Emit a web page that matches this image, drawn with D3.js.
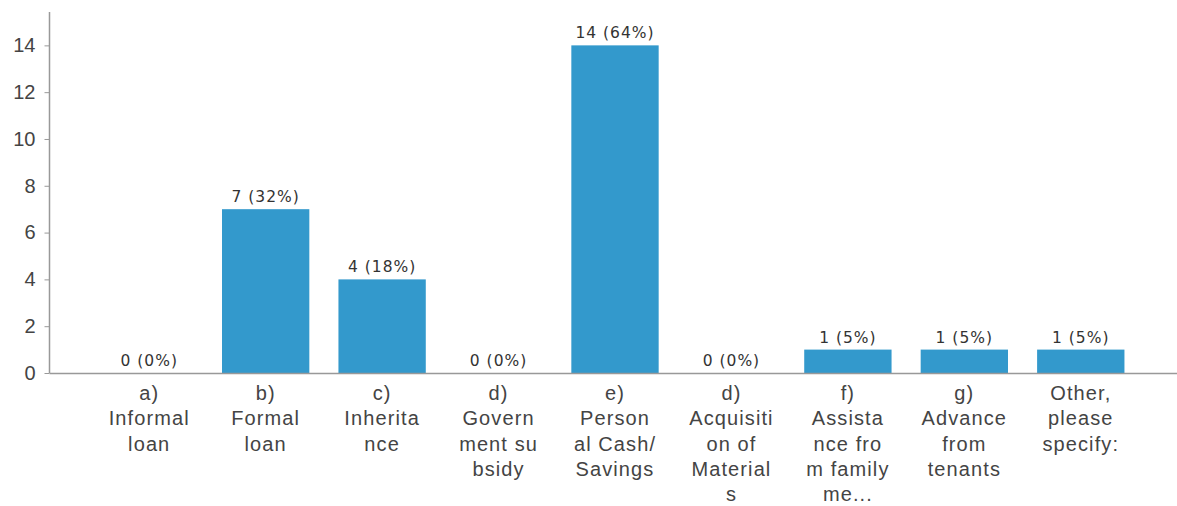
<!DOCTYPE html>
<html><head><meta charset="utf-8">
<script src="https://cdn.jsdelivr.net/npm/d3@7"></script>
<style>body{margin:0;background:#fff}</style>
</head><body>
<svg id="c" width="1177" height="506"></svg>
<script>
const categories = [
  ["a)","Informal","loan"],
  ["b)","Formal","loan"],
  ["c)","Inherita","nce"],
  ["d)","Govern","ment su","bsidy"],
  ["e)","Person","al Cash/","Savings"],
  ["d)","Acquisiti","on of","Material","s"],
  ["f)","Assista","nce fro","m family","me..."],
  ["g)","Advance","from","tenants"],
  ["Other,","please","specify:"]
];
const values = [0,7,4,0,14,0,1,1,1];
const percents = ["0%","32%","18%","0%","64%","0%","5%","5%","5%"];
const yTicks = [0,2,4,6,8,10,12,14];

const svg = d3.select("#c");
const x = d3.scaleBand().domain(d3.range(categories.length)).range([91,1139]).paddingInner(0.25).paddingOuter(0.125);
const y = d3.scaleLinear().domain([0,15.4]).range([373,12.6]);

// bars
svg.selectAll("rect.bar").data(values).join("rect")
  .attr("x",(d,i)=>x(i)).attr("width",x.bandwidth())
  .attr("y",d=>y(d)).attr("height",d=>y(0)-y(d))
  .attr("fill","#3399cc");

// value labels
svg.selectAll("text.val").data(values).join("text")
  .attr("x",(d,i)=>x(i)+x.bandwidth()/2).attr("y",d=>y(d)-7)
  .attr("text-anchor","middle").attr("font-family","DejaVu Sans").attr("font-size",15.5)
  .attr("letter-spacing","1px")
  .attr("fill","#333").text((d,i)=>d+" ("+percents[i]+")");

// y axis
const yAxis = d3.axisLeft(y).tickValues(yTicks).tickSize(5).tickPadding(9);
const ga = svg.append("g").attr("transform","translate(49.5,0)").call(yAxis);
ga.select(".domain").remove();
ga.selectAll(".tick line").attr("stroke","#999");
ga.selectAll(".tick text").attr("font-family","Liberation Sans, Arial").attr("font-size",20).attr("fill","#444");
svg.append("line").attr("x1",49.5).attr("x2",49.5).attr("y1",12).attr("y2",y(0)).attr("stroke","#999").attr("stroke-width",1.5);
svg.append("line").attr("x1",49.5).attr("x2",1177).attr("y1",y(0)+0.5).attr("y2",y(0)+0.5).attr("stroke","#999").attr("stroke-width",1.5);

// category labels
const cg = svg.selectAll("text.cat").data(categories).join("text")
  .attr("text-anchor","middle").attr("font-family","Liberation Sans, Arial").attr("font-size",20)
  .attr("letter-spacing","1.1px").attr("fill","#444");
cg.each(function(lines,i){
  const t = d3.select(this);
  lines.forEach((l,k)=>{
    t.append("tspan").attr("x",x(i)+x.bandwidth()/2).attr("y",400+k*25.3).text(l);
  });
});
</script>
</body></html>
